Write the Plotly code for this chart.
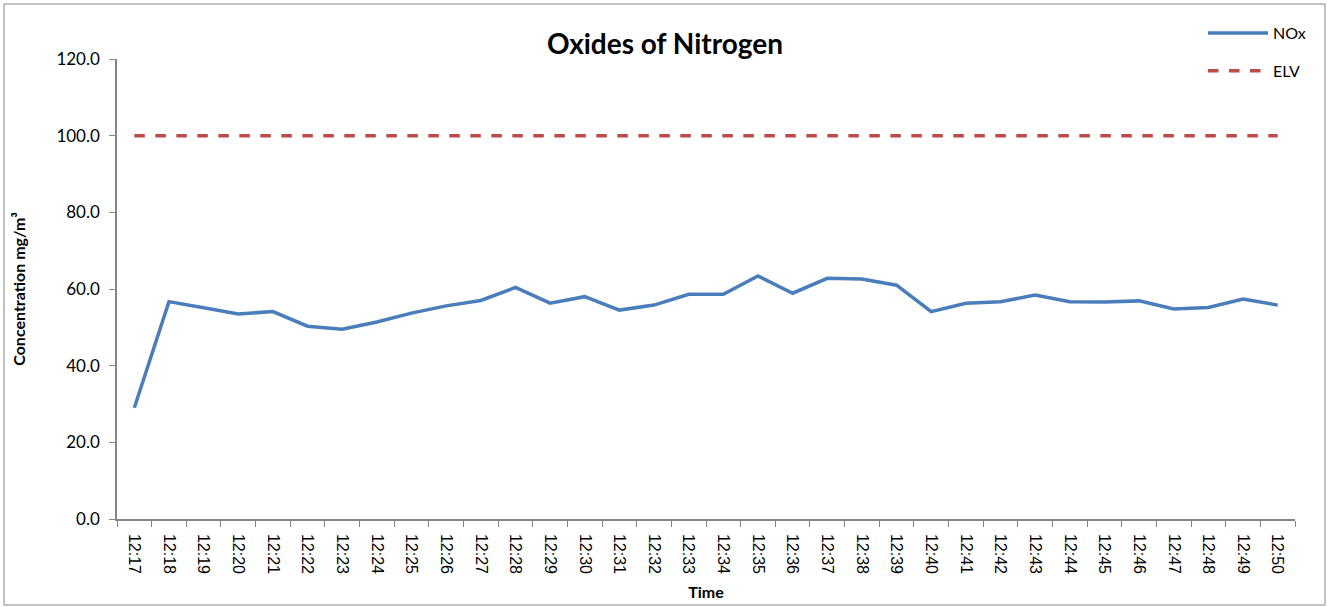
import plotly.graph_objects as go

times = ["12:17", "12:18", "12:19", "12:20", "12:21", "12:22", "12:23", "12:24", "12:25",
         "12:26", "12:27", "12:28", "12:29", "12:30", "12:31", "12:32", "12:33", "12:34",
         "12:35", "12:36", "12:37", "12:38", "12:39", "12:40", "12:41", "12:42", "12:43",
         "12:44", "12:45", "12:46", "12:47", "12:48", "12:49", "12:50"]
nox = [29.0, 56.7, 55.1, 53.5, 54.1, 50.3, 49.5, 51.4, 53.7, 55.6, 57.0, 60.4, 56.3,
       58.0, 54.5, 55.8, 58.6, 58.6, 63.4, 58.9, 62.8, 62.6, 61.0, 54.1, 56.3, 56.7,
       58.4, 56.7, 56.6, 56.9, 54.8, 55.2, 57.4, 55.8]
elv = [100.0] * len(times)

W, H = 1328, 607
L, R, T, B = 117, 1295, 59, 519
pw, ph = R - L, B - T

def px(x):
    return (x - L) / pw

def py(y):
    return (B - y) / ph

fig = go.Figure()
fig.add_trace(go.Scatter(x=times, y=nox, mode="lines", name="NOx", legendgroup="a",
                         line=dict(color="#4A7EBB", width=3.5)))
fig.add_trace(go.Scatter(x=times, y=elv, mode="lines", name="ELV", legendgroup="b",
                         line=dict(color="#BE4B48", width=3.5, dash="dash")))

fig.update_layout(
    width=W, height=H,
    margin=dict(l=L, r=W - R, t=T, b=H - B, autoexpand=False),
    paper_bgcolor="white", plot_bgcolor="white",
    font=dict(family="Liberation Sans, Arial, sans-serif", size=14, color="black"),
    title=dict(text="<b>Oxides of Nitrogen</b>", x=665 / W, xanchor="center",
               y=1 - 44 / H, yanchor="middle",
               font=dict(family="Lato, Open Sans, sans-serif", size=28, color="black")),
    showlegend=True,
    legend=dict(x=px(1203), y=py(16), xanchor="left", yanchor="top",
                bgcolor="rgba(0,0,0,0)", font=dict(family="Lato, sans-serif", size=16),
                tracegroupgap=14, itemwidth=60),
    xaxis=dict(type="category", range=[-0.5, len(times) - 0.5], tickangle=90,
               showline=True, linecolor="#868686", automargin=False,
               linewidth=1.5, ticks="outside", tickson="boundaries", ticklen=6,
               tickcolor="#868686", showgrid=False, zeroline=False, ticklabelstandoff=10,
               tickfont=dict(family="Liberation Sans, Arial, sans-serif", size=16),
               title=dict(text="<b>Time</b>", standoff=14,
                          font=dict(family="Lato, sans-serif", size=16))),
    yaxis=dict(range=[0, 120], dtick=20, tickformat=".1f", showline=True, automargin=False,
               linecolor="#868686", linewidth=1.5, ticks="outside", ticklen=6,
               tickcolor="#868686", showgrid=False, zeroline=False, ticklabelstandoff=6,
               tickfont=dict(family="Lato, sans-serif", size=17),
               title=dict(text="<b>Concentration mg/m³</b>", standoff=27,
                          font=dict(family="Lato, sans-serif", size=16))),
)

fig.add_shape(type="rect", xref="paper", yref="paper",
              x0=px(4), x1=px(1325), y0=py(605), y1=py(4),
              line=dict(color="#868686", width=1), fillcolor="rgba(0,0,0,0)", layer="below")

fig.write_html("out.html", config={"displayModeBar": False},
               post_script="document.body.style.margin='0';document.body.style.overflow='hidden';")
